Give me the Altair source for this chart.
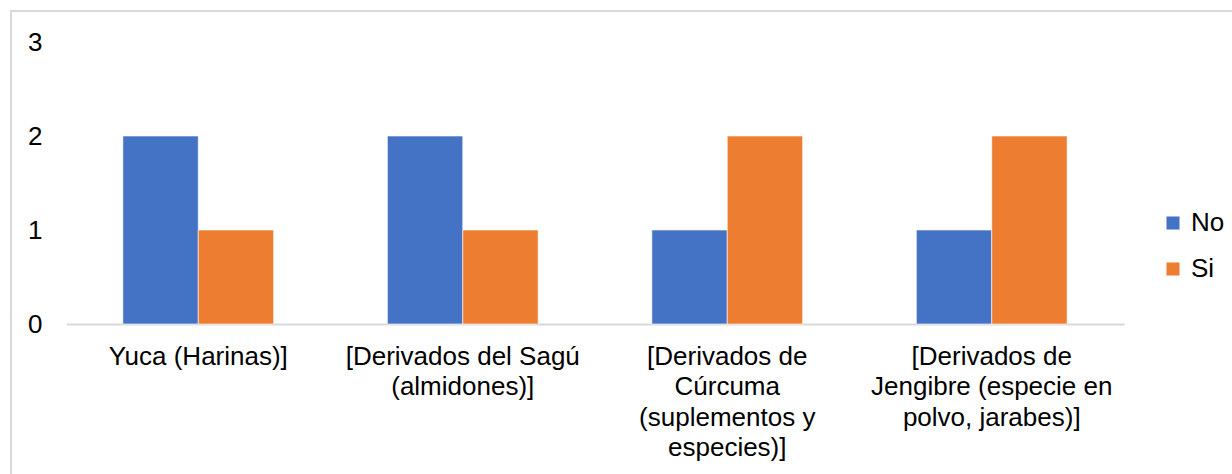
import altair as alt
import pandas as pd

# Product categories (line breaks mark where each label wraps)
categories = [
    "Yuca (Harinas)]",
    "[Derivados del Sagú\n(almidones)]",
    "[Derivados de\nCúrcuma\n(suplementos y\nespecies)]",
    "[Derivados de\nJengibre (especie en\npolvo, jarabes)]",
]
series = ["No", "Si"]
no_values = [2, 2, 1, 1]
si_values = [1, 1, 2, 2]
y_ticks = [0, 1, 2, 3]

rows = []
for cat, n, s in zip(categories, no_values, si_values):
    rows.append({"categoria": cat, "respuesta": "No", "valor": n})
    rows.append({"categoria": cat, "respuesta": "Si", "valor": s})
df = pd.DataFrame(rows)

W, H = 1058, 282
FONT = "Liberation Sans"
FS = 26

bars = alt.Chart(df).mark_bar(stroke="white", strokeWidth=0.6).encode(
    x=alt.X(
        "categoria:N",
        sort=categories,
        title=None,
        scale=alt.Scale(paddingInner=0.43, paddingOuter=0.215),
        axis=alt.Axis(
            labelAngle=0,
            labelExpr="split(datum.label, '\\n')",
            labelFontSize=FS,
            labelFont=FONT,
            labelColor="#000000",
            labelLineHeight=30.5,
            labelPadding=19,
            labelBaseline="top",
            labelLimit=400,
            ticks=False,
            domainColor="#d9d9d9",
            domainWidth=2,
        ),
    ),
    xOffset=alt.XOffset("respuesta:N", sort=series),
    y=alt.Y(
        "valor:Q",
        title=None,
        scale=alt.Scale(domain=[0, 3], nice=False),
        axis=alt.Axis(
            values=y_ticks,
            grid=False,
            domain=False,
            ticks=False,
            labelFontSize=FS,
            labelFont=FONT,
            labelColor="#000000",
            labelPadding=24,
        ),
    ),
    color=alt.Color(
        "respuesta:N",
        sort=series,
        scale=alt.Scale(domain=series, range=["#4472C4", "#ED7D31"]),
        legend=alt.Legend(
            title=None,
            orient="none",
            legendX=1094,
            legendY=168,
            symbolType="square",
            symbolSize=170,
            symbolStrokeWidth=0,
            labelFontSize=FS,
            labelFont=FONT,
            labelColor="#000000",
            labelOffset=5,
            rowPadding=20,
        ),
    ),
)

# Light outer frame around the chart
frame = alt.Chart(pd.DataFrame({"k": [0]})).mark_rect(
    fill=None, stroke="#d9d9d9", strokeWidth=2
).encode(
    x=alt.value(-55),
    x2=alt.value(W + 120),
    y=alt.value(-31),
    y2=alt.value(H + 170),
)

chart = alt.layer(frame, bars).properties(
    width=W,
    height=H,
    autosize=alt.AutoSizeParams(type="none"),
    padding={"left": 66, "top": 42, "right": 108, "bottom": 150},
).configure_view(stroke=None)

chart.save("out.html", embed_options={"renderer": "svg", "actions": False})
